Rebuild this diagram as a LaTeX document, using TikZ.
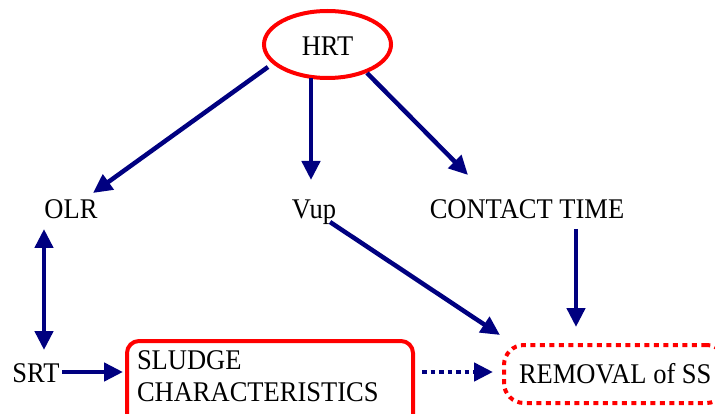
\documentclass[tikz,border=0pt]{standalone}
\usepackage{fontspec}
\setmainfont[FakeStretch=0.93]{Liberation Serif}
\usetikzlibrary{arrows.meta,calc,shapes.geometric}
\definecolor{navyblue}{RGB}{0,0,128}
\definecolor{boxred}{RGB}{255,0,0}
\begin{document}
\begin{tikzpicture}[x=1pt,y=-1pt,
  txt/.style={font=\fontsize{28.5}{32}\selectfont},
  lbl/.style={txt, inner sep=0pt, anchor=base},
  arr/.style={draw=navyblue, line width=4.5pt, -{Triangle[length=19pt,width=18pt]}},
  dblarr/.style={draw=navyblue, line width=4.5pt, {Triangle[length=19pt,width=18pt]}-{Triangle[length=19pt,width=18pt]}},
  dotarr/.style={arr, dash pattern=on 4.5pt off 4pt},
  redbox/.style={draw=boxred, line width=4pt}
]
\useasboundingbox (0,0) rectangle (715,414);

\node[txt, redbox, ellipse, minimum width=127, minimum height=67, inner sep=0pt, text height=23pt, text depth=0pt] (hrt) at (327.5,44.5) {HRT};
\node[lbl] (olr) at (71,219) {OLR};
\node[lbl] (vup) at (314,219) {Vup};
\node[lbl] (ct) at (527,219) {CONTACT TIME};
\node[lbl] (srt) at (36,382) {SRT};
\node[txt, redbox, rounded corners=12pt, anchor=north west, minimum width=286, minimum height=100,
      text width=266pt, align=left, inner xsep=10pt, text height=19pt, text depth=62pt] (sludge) at (125,339) {SLUDGE\\CHARACTERISTICS};
\node[txt, redbox, rounded corners=20pt, dash pattern=on 5pt off 4.5pt, anchor=west, minimum height=58,
      inner xsep=15pt, text height=19pt, text depth=0pt] (removal) at (502,374) {REMOVAL of SS};

\draw[arr] ($(hrt.center)+(-59.5,22.5)$) -- ($(olr.base)+(22,-26)$);
\draw[arr] ($(hrt.center)+(-16.5,33.5)$) -- ($(vup.base)+(-3,-39)$);
\draw[arr] ($(hrt.center)+(39.5,28.5)$) -- ($(ct.base)+(-59,-44)$);
\draw[dblarr] ($(olr.base)+(-27,10)$) -- ($(srt.base)+(8,-32)$);
\draw[arr] ($(vup.base)+(16,3)$) -- ($(removal.north west)+(-2,-8)$);
\draw[arr] ($(ct.base)+(49,10)$) -- ($(ct.base|-removal.north)+(49,-16)$);
\draw[arr] ($(srt.base)+(26,-10)$) -- ($(sludge.north west)+(-2,33)$);
\draw[dotarr] ($(sludge.north east)+(7,33)$) -- ($(removal.west)+(-9,-2)$);
\end{tikzpicture}
\end{document}
